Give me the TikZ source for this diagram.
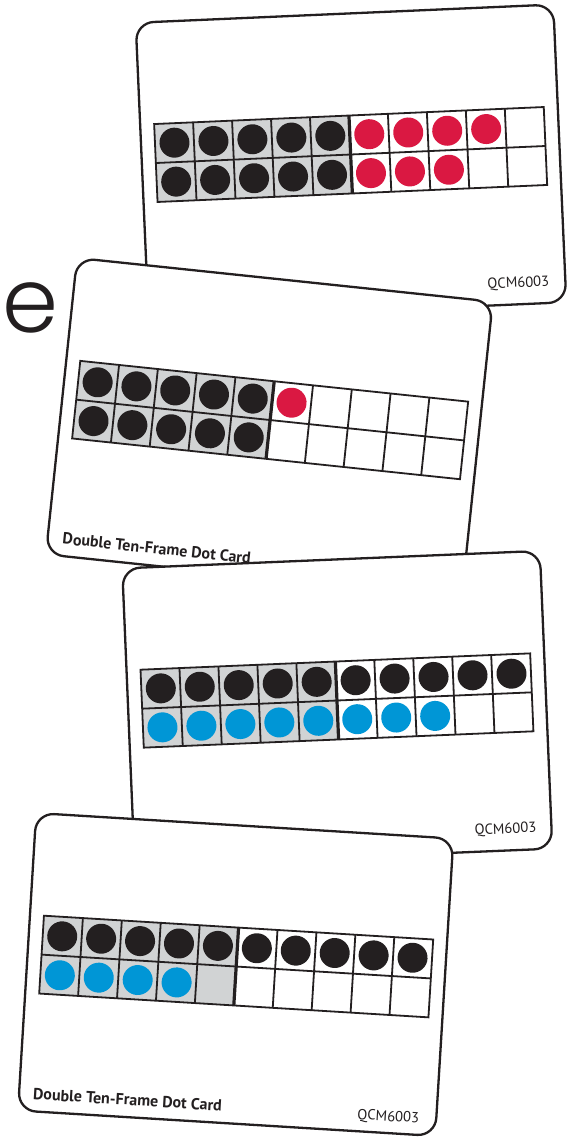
\documentclass[tikz,border=0pt]{standalone}
\usepackage{fontspec}
\setmainfont{PT Sans}
\newfontfamily\efont{Poppins Light}
\definecolor{ink}{HTML}{231F20}
\definecolor{gridgray}{HTML}{D1D3D4}
\definecolor{dotred}{HTML}{DA1842}
\definecolor{dotblue}{HTML}{0096D6}
\tikzset{
  card/.style={draw=ink, line width=2.3pt, fill=white, rounded corners=18pt},
  gridline/.style={draw=ink, line width=1.8pt},
  divider/.style={draw=ink, line width=3.2pt},
  titletext/.style={font=\fontsize{16}{18}\selectfont\bfseries, text=ink, inner sep=0pt, transform shape, anchor=base west},
  codetext/.style={font=\fontsize{14.6}{16}\selectfont, text=ink, inner sep=0pt, transform shape, anchor=base east},
}
\newcommand{\tenframe}[2]{%
  \fill[gridgray] (-195,-47) rectangle (0,31);
  \foreach \c [count=\i from 0] in {#1} {\path[fill=\c] (-175.5+39*\i,-27.5) circle[radius=15];}
  \foreach \c [count=\i from 0] in {#2} {\path[fill=\c] (-175.5+39*\i,11.5) circle[radius=15];}
  \foreach \i in {1,2,3,4,6,7,8,9} {\draw[gridline] (-195+39*\i,-47) -- (-195+39*\i,31);}
  \draw[gridline] (-195,-8) -- (195,-8);
  \draw[gridline] (-195,-47) rectangle (195,31);
  \draw[divider] (0,-47) -- (0,31);
}
\begin{document}
\begin{tikzpicture}[x=1pt,y=-1pt]
\useasboundingbox[fill=white] (0,0) rectangle (575,1139);
\node[font=\efont\fontsize{90}{90}\selectfont, text=ink, inner sep=0pt, anchor=base west] (bigE) at (2,332) {e};
% card 1
\begin{scope}[shift={(351,162.5)}, rotate=2.5]
  \draw[card] (-209,-149) rectangle (209,149);
  \tenframe{ink,ink,ink,ink,ink,dotred,dotred,dotred,dotred,none}{ink,ink,ink,ink,ink,dotred,dotred,dotred,none,none}
  \node[codetext] (code1) at (193,132) {QCM6003};
\end{scope}
% card 2
\begin{scope}[shift={(269.3,428)}, rotate=-6]
  \draw[card] (-209,-149) rectangle (209,149);
  \tenframe{ink,ink,ink,ink,ink,dotred,none,none,none,none}{ink,ink,ink,ink,ink,none,none,none,none,none}
  \node[titletext] (title2) at (-194,137) {Double Ten-Frame Dot Card};
\end{scope}
% card 3
\begin{scope}[shift={(337.3,708.5)}, rotate=2.4]
  \draw[card] (-209,-149) rectangle (209,149);
  \tenframe{ink,ink,ink,ink,ink,ink,ink,ink,ink,ink}{dotblue,dotblue,dotblue,dotblue,dotblue,dotblue,dotblue,dotblue,none,none}
  \node[codetext] (code3) at (194,132) {QCM6003};
\end{scope}
% card 4
\begin{scope}[shift={(235.7,974.5)}, rotate=-3.5]
  \draw[card] (-209,-149) rectangle (209,149);
  \tenframe{ink,ink,ink,ink,ink,ink,ink,ink,ink,ink}{dotblue,dotblue,dotblue,dotblue,none,none,none,none,none,none}
  \node[titletext] (title4) at (-195,137) {Double Ten-Frame Dot Card};
  \node[codetext] (code4) at (192,137) {QCM6003};
\end{scope}
\end{tikzpicture}
\end{document}
